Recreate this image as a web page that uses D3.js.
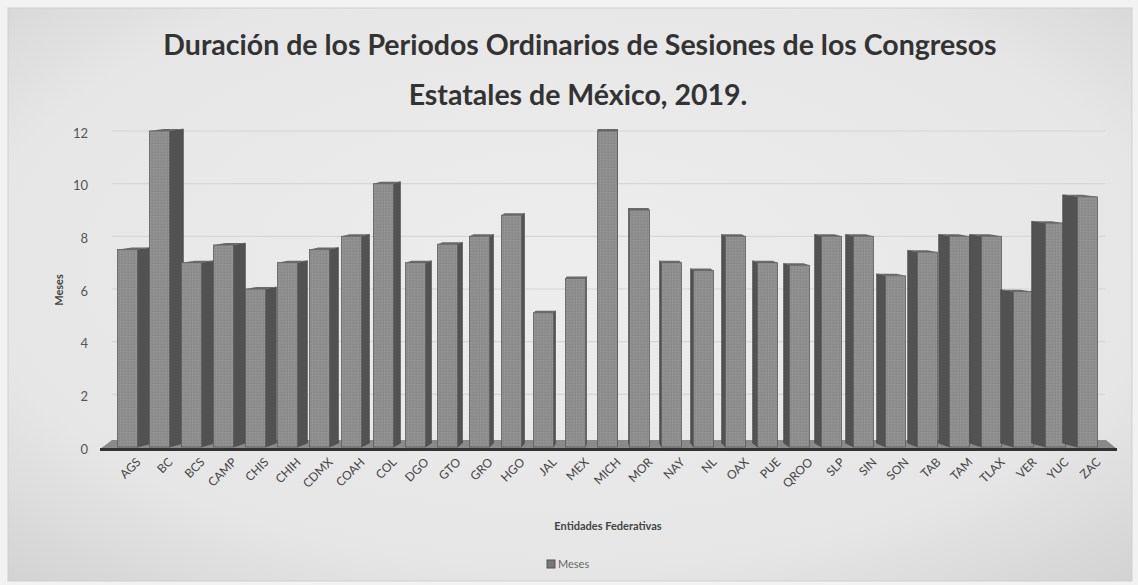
<!DOCTYPE html>
<html>
<head>
<meta charset="utf-8">
<script src="https://cdn.jsdelivr.net/npm/d3@7"></script>
<style>
  body { margin: 0; background: #dedede; }
  svg { display: block; }
</style>
</head>
<body>
<div id="chart"></div>
<script>
// estados y meses de sesiones ordinarias
var estados = ["AGS", "BC", "BCS", "CAMP", "CHIS", "CHIH", "CDMX", "COAH", "COL", "DGO",
    "GTO", "GRO", "HGO", "JAL", "MEX", "MICH", "MOR", "NAY", "NL", "OAX",
    "PUE", "QROO", "SLP", "SIN", "SON", "TAB", "TAM", "TLAX", "VER", "YUC", "ZAC"]
var meses = [7.5, 12, 7, 7.67, 6, 7, 7.5, 8, 10, 7,
    7.7, 8, 8.8, 5.1, 6.4, 12, 9, 7, 6.7, 8,
    7, 6.9, 8, 8, 6.5, 7.4, 8, 8, 5.9, 8.5, 9.5]
var yTicks = [0, 2, 4, 6, 8, 10, 12]

var W = 1138, H = 585

var svg = d3.select("#chart")
    .append("svg")
    .attr("width", W)
    .attr("height", H)

var defs = svg.append("defs")

// fondo tipo foto con bordes mas oscuros
var rg = defs.append("radialGradient").attr("id", "fondo")
    .attr("cx", "50%").attr("cy", "45%").attr("r", "75%")
rg.append("stop").attr("offset", "0%").attr("stop-color", "#ededed")
rg.append("stop").attr("offset", "70%").attr("stop-color", "#e6e6e6")
rg.append("stop").attr("offset", "100%").attr("stop-color", "#d2d2d2")

// textura punteada de las barras (suave)
var pat = defs.append("pattern").attr("id", "puntos")
    .attr("width", 3).attr("height", 3).attr("patternUnits", "userSpaceOnUse")
pat.append("rect").attr("width", 3).attr("height", 3).attr("fill", "#8e8e8e")
pat.append("rect").attr("width", 1).attr("height", 1).attr("fill", "#979797")
pat.append("rect").attr("x", 2).attr("y", 2).attr("width", 1).attr("height", 1).attr("fill", "#868686")

svg.append("rect").attr("width", W).attr("height", H).attr("fill", "#f2f2f2")
svg.append("rect")
    .attr("x", 8).attr("y", 8)
    .attr("width", W - 14).attr("height", H - 12)
    .attr("fill", "url(#fondo)")
    .attr("stroke", "#cfcfcf")

// titulo
var title = svg.append("text")
    .attr("text-anchor", "middle")
    .style("font", "bold 28.5px Lato")
    .attr("fill", "#333")
title.append("tspan").attr("x", 580).attr("y", 55)
    .text("Duración de los Periodos Ordinarios de Sesiones de los Congresos")
title.append("tspan").attr("x", 578).attr("y", 105)
    .text("Estatales de México, 2019.")

// escalas
var x = d3.scaleBand()
    .domain(estados)
    .range([111.5, 111.5 + 32 * estados.length])
    .paddingInner(0.375)
    .paddingOuter(0.1875)

var y = d3.scaleLinear()
    .domain([0, 12])
    .range([447, 131])

// lineas de cuadricula (pared del fondo)
svg.append("g")
    .selectAll("line")
    .data(yTicks.slice(1))
    .enter()
    .append("line")
    .attr("x1", 112).attr("x2", 1105)
    .attr("y1", function (d) { return y(d) })
    .attr("y2", function (d) { return y(d) })
    .attr("stroke", "#d6d6d6")
    .attr("stroke-width", 1.2)

// eje y
var yAxis = d3.axisLeft(y)
    .tickValues(yTicks)
    .tickSize(0)
    .tickPadding(0)
var gy = svg.append("g")
    .attr("transform", "translate(88,2)")
    .call(yAxis)
gy.select(".domain").remove()
gy.selectAll("text")
    .style("font", "13px Lato")
    .attr("fill", "#555")

// piso
var y0 = y(0)
svg.append("polygon")
    .attr("points", [[100, y0 + 2], [1117, y0 + 2], [1106, y0 - 7], [112, y0 - 7]].join(" "))
    .attr("fill", "#8a8a8a")

// barras 3d
var vx = 608      // punto de fuga horizontal
var k = 0.031     // profundidad aparente
var t = 2

var bar = svg.append("g")
    .selectAll("g")
    .data(estados.map(function (e, i) { return { estado: e, valor: meses[i] } }))
    .enter()
    .append("g")

function xl(d) { return x(d.estado) }
function xr(d) { return x(d.estado) + x.bandwidth() }
function lado(d) { return (vx - (xl(d) + x.bandwidth() / 2)) * k }

// cara lateral
bar.append("polygon")
    .attr("points", function (d) {
        var s = lado(d)
        var xe = s >= 0 ? xr(d) : xl(d)
        var yt = y(d.valor)
        return [[xe, yt], [xe + s, yt - t], [xe + s, y0 - 4], [xe, y0]].join(" ")
    })
    .attr("fill", "#525252")
    .attr("stroke", "#474747")
    .attr("stroke-width", 0.6)

// cara superior
bar.append("polygon")
    .attr("points", function (d) {
        var s = lado(d)
        var yt = y(d.valor)
        return [[xl(d), yt], [xr(d), yt], [xr(d) + s, yt - t], [xl(d) + s, yt - t]].join(" ")
    })
    .attr("fill", "#6a6a6a")

// cara frontal
bar.append("rect")
    .attr("x", xl)
    .attr("y", function (d) { return y(d.valor) })
    .attr("width", x.bandwidth())
    .attr("height", function (d) { return y0 - y(d.valor) })
    .attr("fill", "url(#puntos)")
    .attr("stroke", "#5e5e5e")
    .attr("stroke-width", 0.8)

// linea base
svg.append("line")
    .attr("x1", 100).attr("x2", 1117)
    .attr("y1", y0 + 2.5).attr("y2", y0 + 2.5)
    .attr("stroke", "#333")
    .attr("stroke-width", 3)

// eje x
var xAxis = d3.axisBottom(x).tickSize(0).tickPadding(0)
var gx = svg.append("g")
    .attr("transform", "translate(0," + (y0 + 6) + ")")
    .call(xAxis)
gx.select(".domain").remove()
gx.selectAll("text")
    .style("font", "12px Lato")
    .attr("fill", "#444")
    .attr("text-anchor", "end")
    .attr("dy", "0.7em")
    .attr("transform", "translate(8,4) rotate(-45)")

// titulos de ejes
svg.append("text")
    .attr("x", 608).attr("y", 530)
    .attr("text-anchor", "middle")
    .style("font", "bold 11px Lato")
    .attr("fill", "#444")
    .text("Entidades Federativas")

svg.append("text")
    .attr("transform", "translate(63,290) rotate(-90)")
    .attr("text-anchor", "middle")
    .style("font", "bold 11px Lato")
    .attr("fill", "#444")
    .text("Meses")

// leyenda
svg.append("rect")
    .attr("x", 547).attr("y", 560)
    .attr("width", 8).attr("height", 8)
    .attr("fill", "#777")
    .attr("stroke", "#555")
svg.append("text")
    .attr("x", 558).attr("y", 568)
    .style("font", "11px Lato")
    .attr("fill", "#666")
    .text("Meses")
</script>
</body>
</html>
